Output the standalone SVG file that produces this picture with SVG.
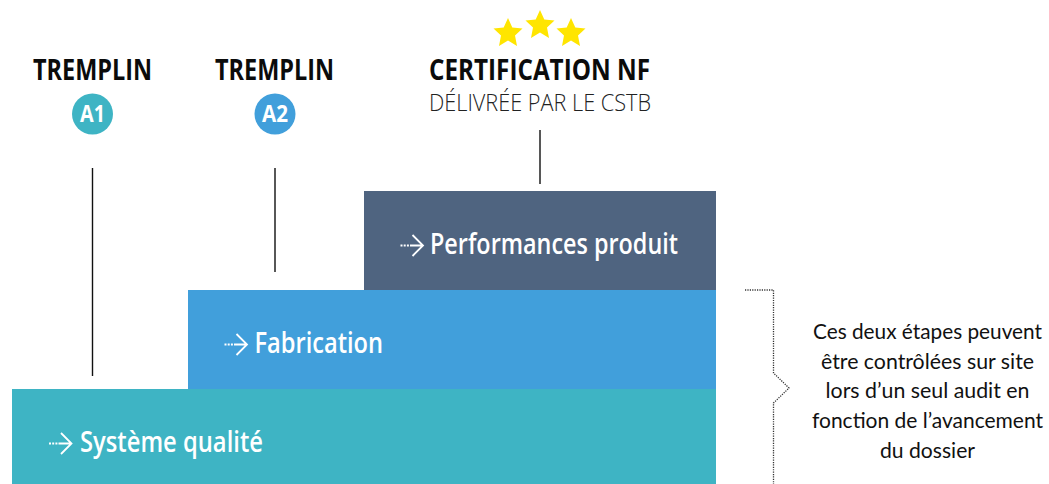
<svg xmlns="http://www.w3.org/2000/svg" width="1049" height="484" viewBox="0 0 1049 484">
<style>
text{font-family:"Open Sans","Noto Sans","Liberation Sans",sans-serif}
.h{font-size:28px;font-weight:700;fill:#0b0b0b}
.b{font-size:29px;font-weight:600;fill:#fff}
.c{font-size:23px;font-weight:700;fill:#fff;text-anchor:middle}
.n{font-family:Lato,"Open Sans",sans-serif;font-size:21.5px;font-weight:400;fill:#111;text-anchor:middle}
.l{stroke:#111;stroke-width:1.4;fill:none}
.a{stroke:#fff;stroke-width:1.8;fill:none}
.d{stroke:#fff;stroke-width:1.8;fill:none;stroke-dasharray:2 1.2}
.s{fill:#ffe500}
</style>
<defs>
<polygon id="star" points="0,-15 4.3,-5.5 14.5,-4.5 7,2.500 9,13 0,7.500 -9,13 -7,2.500 -14.500,-4.500 -4.300,-5.500"/>
<g id="arrow"><path class="d" d="M0 0H9"/><path class="a" d="M9.500 0H22.500M12 -10.500L22.500 0L12 10.500"/></g>
</defs>
<g id="systeme"><rect x="12" y="389" width="704" height="95" fill="#3eb4c4"/><use href="#arrow" x="49" y="443.500"/><text class="b" x="80" y="452" textLength="183" lengthAdjust="spacingAndGlyphs">Système qualité</text></g>
<g id="fabrication"><rect x="188" y="290" width="528" height="99" fill="#419fdb"/><use href="#arrow" x="224.500" y="344.500"/><text class="b" x="254.500" y="353" textLength="128.500" lengthAdjust="spacingAndGlyphs">Fabrication</text></g>
<g id="performances"><rect x="364" y="191" width="352" height="99" fill="#4f6480"/><use href="#arrow" x="400.500" y="245.500"/><text class="b" x="430" y="253.500" textLength="248" lengthAdjust="spacingAndGlyphs">Performances produit</text></g>
<g id="a1"><text class="h" x="33" y="80" textLength="119" lengthAdjust="spacingAndGlyphs">TREMPLIN</text><circle cx="92.500" cy="114" r="20.500" fill="#3eb4c4"/><text class="c" x="92.500" y="122" textLength="25" lengthAdjust="spacingAndGlyphs">A1</text></g>
<g id="a2"><text class="h" x="215" y="80" textLength="119" lengthAdjust="spacingAndGlyphs">TREMPLIN</text><circle cx="275" cy="114" r="20.500" fill="#419fdb"/><text class="c" x="275" y="122" textLength="26" lengthAdjust="spacingAndGlyphs">A2</text></g>
<g id="nf"><use href="#star" class="s" x="508" y="33"/><use href="#star" class="s" x="540" y="25"/><use href="#star" class="s" x="571" y="33"/><text class="h" x="429" y="80" textLength="221" lengthAdjust="spacingAndGlyphs">CERTIFICATION NF</text><text x="429" y="111" font-size="23" font-weight="300" fill="#222" textLength="222" lengthAdjust="spacingAndGlyphs">DÉLIVRÉE PAR LE CSTB</text></g>
<g id="note"><text class="n" x="927.500" y="339" textLength="229" lengthAdjust="spacingAndGlyphs">Ces deux étapes peuvent</text><text class="n" x="927.500" y="369" textLength="213" lengthAdjust="spacingAndGlyphs">être contrôlées sur site</text><text class="n" x="927.500" y="398" textLength="204" lengthAdjust="spacingAndGlyphs">lors d’un seul audit en</text><text class="n" x="927.500" y="428" textLength="231" lengthAdjust="spacingAndGlyphs">fonction de l’avancement</text><text class="n" x="927.500" y="458" textLength="95" lengthAdjust="spacingAndGlyphs">du dossier</text></g>
<g id="connectors">
<path class="l" d="M92.500 168V376M275 168V272M540 130V184"/>
<path d="M745 290H773.500V373L789 388L773.500 403V484" fill="none" stroke="#333" stroke-width="1.300" stroke-dasharray="1.200 1.200"/>
</g>
</svg>
